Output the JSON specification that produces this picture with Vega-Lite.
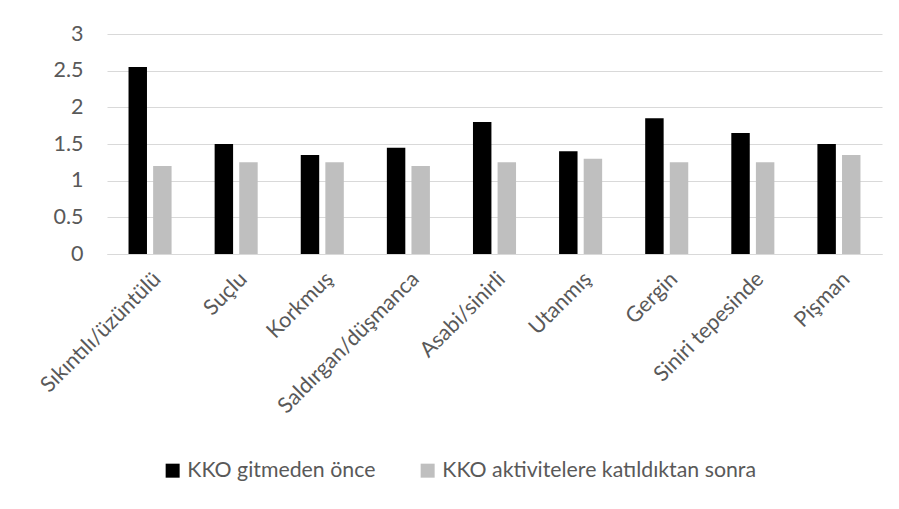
{
  "$schema": "https://vega.github.io/schema/vega-lite/v6.json",
  "autosize": {"type": "none"},
  "width": 775,
  "height": 220,
  "padding": {"left": 107, "top": 34, "right": 17, "bottom": 255},
  "background": "white",
  "config": {
    "view": {"stroke": null},
    "font": "Lato",
    "axis": {"labelFont": "Lato", "labelColor": "#595959", "labelFontSize": 21.5},
    "legend": {"labelFont": "Lato", "labelColor": "#595959", "labelFontSize": 21.3}
  },
  "data": {
    "values": [
      {"duygu": "Sıkıntılı/üzüntülü", "durum": "KKO gitmeden önce", "deger": 2.55},
      {"duygu": "Sıkıntılı/üzüntülü", "durum": "KKO aktivitelere katıldıktan sonra", "deger": 1.2},
      {"duygu": "Suçlu", "durum": "KKO gitmeden önce", "deger": 1.5},
      {"duygu": "Suçlu", "durum": "KKO aktivitelere katıldıktan sonra", "deger": 1.25},
      {"duygu": "Korkmuş", "durum": "KKO gitmeden önce", "deger": 1.35},
      {"duygu": "Korkmuş", "durum": "KKO aktivitelere katıldıktan sonra", "deger": 1.25},
      {"duygu": "Saldırgan/düşmanca", "durum": "KKO gitmeden önce", "deger": 1.45},
      {"duygu": "Saldırgan/düşmanca", "durum": "KKO aktivitelere katıldıktan sonra", "deger": 1.2},
      {"duygu": "Asabi/sinirli", "durum": "KKO gitmeden önce", "deger": 1.8},
      {"duygu": "Asabi/sinirli", "durum": "KKO aktivitelere katıldıktan sonra", "deger": 1.25},
      {"duygu": "Utanmış", "durum": "KKO gitmeden önce", "deger": 1.4},
      {"duygu": "Utanmış", "durum": "KKO aktivitelere katıldıktan sonra", "deger": 1.3},
      {"duygu": "Gergin", "durum": "KKO gitmeden önce", "deger": 1.85},
      {"duygu": "Gergin", "durum": "KKO aktivitelere katıldıktan sonra", "deger": 1.25},
      {"duygu": "Siniri tepesinde", "durum": "KKO gitmeden önce", "deger": 1.65},
      {"duygu": "Siniri tepesinde", "durum": "KKO aktivitelere katıldıktan sonra", "deger": 1.25},
      {"duygu": "Pişman", "durum": "KKO gitmeden önce", "deger": 1.5},
      {"duygu": "Pişman", "durum": "KKO aktivitelere katıldıktan sonra", "deger": 1.35}
    ]
  },
  "mark": {"type": "bar"},
  "encoding": {
    "x": {
      "field": "duygu",
      "type": "nominal",
      "sort": null,
      "title": null,
      "scale": {"paddingInner": 0.5, "paddingOuter": 0.25},
      "axis": {"labelAngle": -45, "ticks": false, "domainColor": "#d9d9d9", "domainWidth": 1, "labelPadding": 14, "labelDx": -8, "labelDy": 3, "labelLimit": 0}
    },
    "xOffset": {
      "field": "durum",
      "type": "nominal",
      "sort": ["KKO gitmeden önce", "KKO aktivitelere katıldıktan sonra"],
      "scale": {"paddingInner": 0.25, "paddingOuter": 0}
    },
    "y": {
      "field": "deger",
      "type": "quantitative",
      "title": null,
      "scale": {"domain": [0, 3], "nice": false},
      "axis": {"values": [0, 0.5, 1, 1.5, 2, 2.5, 3], "format": "~g", "ticks": false, "domain": false, "gridColor": "#d9d9d9", "gridWidth": 1, "labelPadding": 24}
    },
    "color": {
      "field": "durum",
      "type": "nominal",
      "sort": ["KKO gitmeden önce", "KKO aktivitelere katıldıktan sonra"],
      "scale": {"range": ["#000000", "#bfbfbf"]},
      "legend": {
        "title": null,
        "orient": "none",
        "direction": "horizontal",
        "legendX": 55,
        "legendY": 426,
        "symbolType": "square",
        "symbolSize": 196,
        "symbolStrokeWidth": 0,
        "labelOffset": 4,
        "labelLimit": 0,
        "columnPadding": 41
      }
    }
  }
}
